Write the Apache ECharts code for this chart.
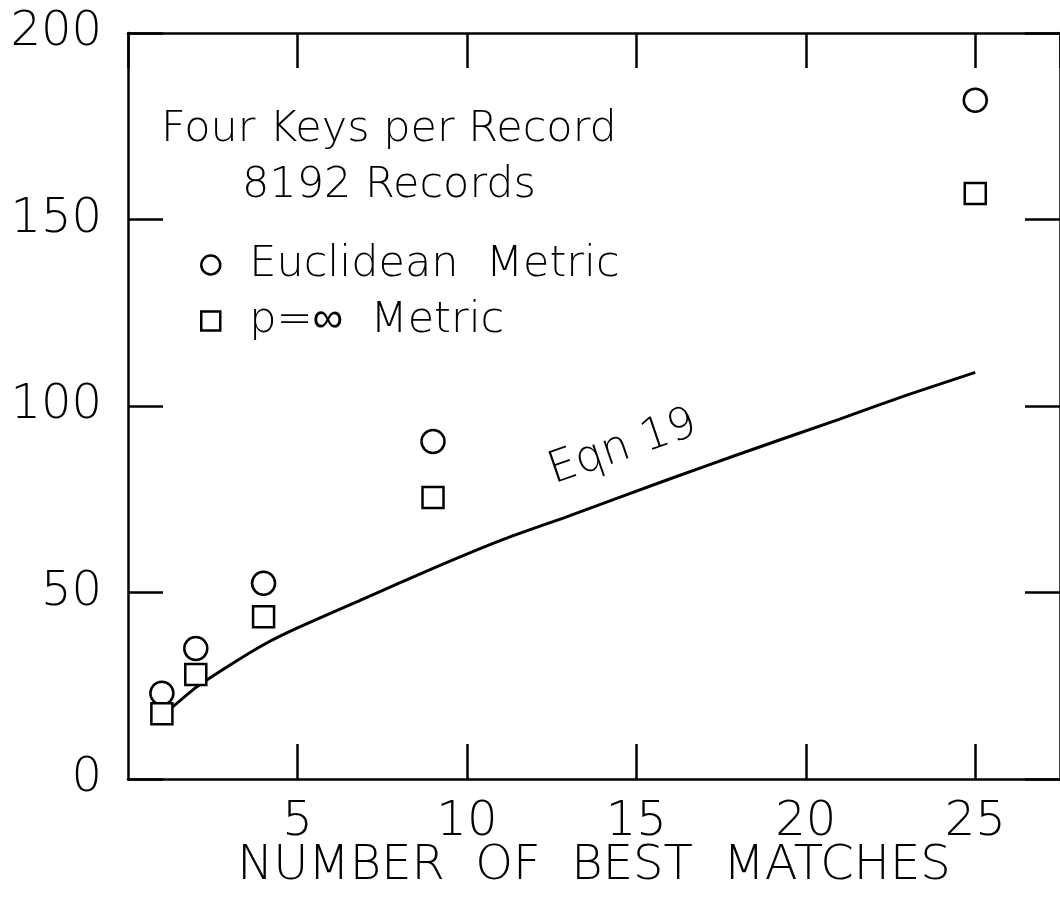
<!DOCTYPE html>
<html>
<head>
<meta charset="utf-8">
<script src="https://cdn.jsdelivr.net/npm/echarts@6/dist/echarts.min.js"></script>
<style>
html,body{margin:0;padding:0;background:#fff;}
#c{width:1060px;height:920px;}
</style>
</head>
<body>
<div id="c"></div>
<script>
// ---- data ----
const matches = [1, 2, 4, 9, 25];
const euclidean = [23, 35, 52.5, 90.5, 182];
const pInfinity = [17.5, 28, 43.5, 75.5, 157];
const eqnX = [1.15, 2, 3, 4, 5, 7, 9, 11, 13, 16, 18, 21, 23, 25];
const eqnY = [18, 24.5, 30.5, 36, 40.5, 48.5, 56.5, 64, 70.5, 80.5, 87, 96.5, 103, 109];
const yTicks = [0, 50, 100, 150, 200];
const xTicks = [5, 10, 15, 20, 25];
const seriesNames = ['Euclidean  Metric', 'p=\u221E  Metric'];
const noteLines = ['Four Keys per Record', '8192 Records'];
const eqnLabel = 'Eqn 19';
const xTitle = 'NUMBER  OF  BEST  MATCHES';

const FONT = '"DejaVu Sans", sans-serif';
const W = 200;
const INK = '#000';

const chart = echarts.init(document.getElementById('c'), null, {renderer: 'canvas'});

const axisCommon = {
  type: 'value',
  axisLine: {show: true, onZero: false, lineStyle: {color: INK, width: 2.5}},
  axisTick: {show: true, inside: true, length: 35, lineStyle: {color: INK, width: 2.5}},
  splitLine: {show: false}
};

const option = {
  backgroundColor: '#fff',
  animation: false,
  grid: {left: 128, top: 33, width: 934, height: 746, containLabel: false},
  xAxis: [
    Object.assign({}, axisCommon, {
      position: 'bottom', min: 0, max: 27.5, interval: 5,
      axisLabel: {
        show: true, fontSize: 48, fontFamily: FONT, fontWeight: W, color: INK, margin: 20,
        showMinLabel: false, showMaxLabel: false,
        formatter: v => (xTicks.indexOf(v) >= 0 ? String(v) : '')
      },
      name: xTitle, nameLocation: 'middle', nameGap: 64, nameMoveOverlap: false,
      nameTextStyle: {fontSize: 48, fontFamily: FONT, fontWeight: W, color: INK,
                      verticalAlign: 'top', padding: 0}
    }),
    Object.assign({}, axisCommon, {
      position: 'top', min: 0, max: 27.5, interval: 5,
      axisLabel: {show: false}
    })
  ],
  yAxis: [
    Object.assign({}, axisCommon, {
      position: 'left', min: 0, max: 200, interval: 50,
      axisLabel: {
        show: true, fontSize: 48, fontFamily: FONT, fontWeight: W, color: INK, margin: 26,
        formatter: v => (yTicks.indexOf(v) >= 0 ? String(v) : '')
      }
    }),
    Object.assign({}, axisCommon, {
      position: 'right', min: 0, max: 200, interval: 50,
      axisLabel: {show: false}
    })
  ],
  legend: {
    orient: 'vertical',
    left: 195, top: 238,
    itemWidth: 19, itemHeight: 19, itemGap: 12,
    data: [
      {name: seriesNames[0], icon: 'circle'},
      {name: seriesNames[1], icon: 'rect'}
    ],
    textStyle: {fontSize: 43, fontFamily: FONT, fontWeight: W, color: INK, padding: [0, 0, 0, 24], lineHeight: 44},
    itemStyle: {color: '#fff', borderColor: INK, borderWidth: 2.5},
    selectedMode: false
  },
  series: [
    {
      name: seriesNames[0], type: 'scatter', xAxisIndex: 0, yAxisIndex: 0,
      symbol: 'circle', symbolSize: 23,
      itemStyle: {color: '#fff', borderColor: INK, borderWidth: 2.5, opacity: 1},
      data: matches.map((m, i) => [m, euclidean[i]]),
      z: 5
    },
    {
      name: seriesNames[1], type: 'scatter', xAxisIndex: 0, yAxisIndex: 0,
      symbol: 'rect', symbolSize: 21,
      itemStyle: {color: '#fff', borderColor: INK, borderWidth: 2.5, opacity: 1},
      data: matches.map((m, i) => [m, pInfinity[i]]),
      z: 6
    },
    {
      name: eqnLabel, type: 'line', xAxisIndex: 0, yAxisIndex: 0,
      smooth: 0.2, showSymbol: false, symbol: 'none',
      lineStyle: {color: INK, width: 3},
      data: eqnX.map((x, i) => [x, eqnY[i]]),
      z: 4
    }
  ]
};
chart.setOption(option);

// annotations positioned through the chart's own scales
const noteAnchor = [7.7, 174];   // data-space anchor of the note block (centre of first line)
const eqnAnchor = [14.6, 88.8];  // data-space anchor of the "Eqn 19" label
const p0 = chart.convertToPixel({gridIndex: 0}, noteAnchor);
const pe = chart.convertToPixel({gridIndex: 0}, eqnAnchor);
chart.setOption({
  graphic: [
    {
      type: 'text', x: p0[0], y: p0[1], z: 10,
      style: {text: noteLines[0], fontSize: 43, fontFamily: FONT, fontWeight: W, fill: INK,
              align: 'center', verticalAlign: 'middle'}
    },
    {
      type: 'text', x: p0[0], y: p0[1] + 56, z: 10,
      style: {text: noteLines[1], fontSize: 43, fontFamily: FONT, fontWeight: W, fill: INK,
              align: 'center', verticalAlign: 'middle'}
    },
    {
      type: 'text', x: pe[0], y: pe[1], rotation: 0.33, z: 10,
      style: {text: eqnLabel, fontSize: 44, fontFamily: FONT, fontWeight: W, fill: INK,
              align: 'center', verticalAlign: 'middle'}
    }
  ]
});
</script>
</body>
</html>
